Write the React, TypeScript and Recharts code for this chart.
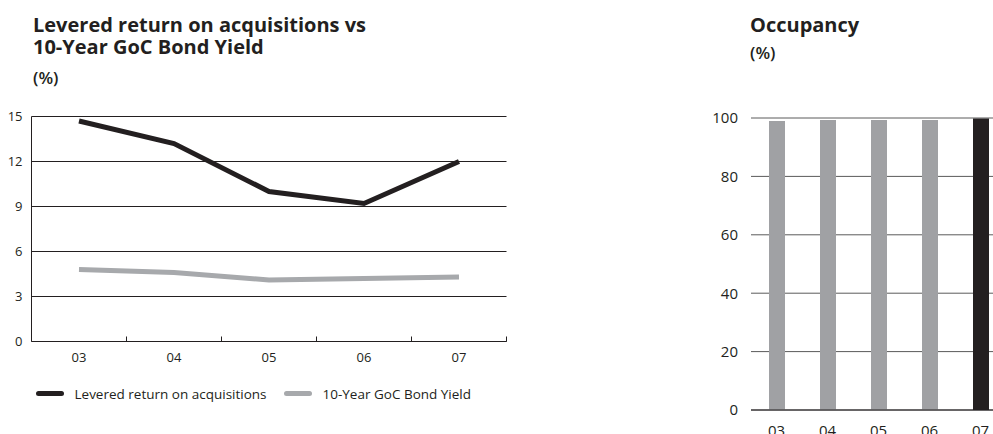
import { LineChart, Line, BarChart, Bar, XAxis, YAxis, CartesianGrid, Legend, Cell } from 'recharts';

const years = ['03', '04', '05', '06', '07'];
const leveredReturn = [14.7, 13.2, 10.0, 9.2, 12.0];
const bondYield = [4.8, 4.6, 4.1, 4.2, 4.3];
const occupancy = [99.0, 99.3, 99.3, 99.3, 99.8];
const returnTicks = [0, 3, 6, 9, 12, 15];
const occupancyTicks = [0, 20, 40, 60, 80, 100];
const seriesNames = ['Levered return on acquisitions', '10-Year GoC Bond Yield'];
const leftTitle = ['Levered return on acquisitions vs', '10-Year GoC Bond Yield'];

const INK = '#231f20';
const GREY = '#a7a9ac';
const BAR_GREY = '#a0a1a4';
const FONT = '"Open Sans", "Noto Sans", sans-serif';
const X_TICK_MARGIN = 11;

const returnData = years.map((year, i) => ({ year, levered: leveredReturn[i], bond: bondYield[i] }));
const occupancyData = years.map((year, i) => ({ year, occupancy: occupancy[i] }));

// year label under the band, plus a small upward mark at the band's right edge
function YearTick({ x, y, payload }: any) {
  const edge = x + (payload.offset || 0);
  const axisY = y - X_TICK_MARGIN;
  return (
    <g>
      <line x1={edge} x2={edge} y1={axisY} y2={axisY - 5} stroke={INK} />
      <text x={x} y={y} dy="0.71em" textAnchor="middle" fill={INK} fontSize={13} fontFamily={FONT}>
        {payload.value}
      </text>
    </g>
  );
}

function LineLegend({ payload }: any) {
  const items = [...(payload || [])].sort((a: any, b: any) => seriesNames.indexOf(a.value) - seriesNames.indexOf(b.value));
  return (
    <div style={{ display: 'flex', alignItems: 'center', height: 20, fontFamily: FONT, fontSize: 13.5, color: INK }}>
      {items.map((p: any, i: number) => (
        <div key={p.value} style={{ display: 'flex', alignItems: 'center', marginLeft: i === 0 ? 35 : 17 }}>
          <span style={{ display: 'inline-block', width: 28, height: 5, borderRadius: 3, background: p.color, marginRight: 11 }} />
          <span>{p.value}</span>
        </div>
      ))}
    </div>
  );
}

const titleStyle = { position: 'absolute' as const, fontFamily: FONT, fontWeight: 700, fontSize: 20, lineHeight: '22px', height: 22, color: INK, whiteSpace: 'nowrap' as const };
const unitStyle = { position: 'absolute' as const, fontFamily: FONT, fontWeight: 600, fontSize: 17, lineHeight: '20px', color: INK };

export default function App() {
  const tick = { fontSize: 13, fill: INK, fontFamily: FONT };
  return (
    <div style={{ position: 'fixed', left: 0, top: 0, width: 993, height: 434, overflow: 'hidden', background: '#fff' }}>
      {leftTitle.map((line, i) => (
        <div key={line} style={{ ...titleStyle, left: 33, top: 14 + i * 22 }}>{line}</div>
      ))}
      <div style={{ ...unitStyle, left: 33, top: 68 }}>(%)</div>

      <div style={{ position: 'absolute', left: 0, top: 100 }}>
        <LineChart width={520} height={310} data={returnData} margin={{ top: 16.5, right: 13.5, left: 0.5, bottom: 6.5 }}>
          <CartesianGrid vertical={false} stroke={INK} strokeOpacity={1} />
          <XAxis dataKey="year" scale="band" tickLine={false} axisLine={{ stroke: INK }} tick={<YearTick />} tickSize={0} tickMargin={X_TICK_MARGIN} height={42} interval={0} />
          <YAxis domain={[0, 15]} ticks={returnTicks} width={31} tickLine={false} tickSize={0} tickMargin={9} axisLine={{ stroke: INK }} tick={tick} />
          <Line dataKey="levered" name={seriesNames[0]} stroke={INK} strokeWidth={5} dot={false} isAnimationActive={false} />
          <Line dataKey="bond" name={seriesNames[1]} stroke={GREY} strokeWidth={5} dot={false} isAnimationActive={false} />
          <Legend verticalAlign="bottom" align="left" content={<LineLegend />} />
        </LineChart>
      </div>

      <div style={{ ...titleStyle, left: 750, top: 14 }}>Occupancy</div>
      <div style={{ ...unitStyle, left: 750, top: 43 }}>(%)</div>

      <div style={{ position: 'absolute', left: 700, top: 100 }}>
        <BarChart width={306} height={340} data={occupancyData} margin={{ top: 18, right: 0, left: 0, bottom: 0 }}>
          <CartesianGrid vertical={false} stroke="#5a5a5a" strokeOpacity={1} />
          <XAxis dataKey="year" tickLine={false} axisLine={{ stroke: INK }} tick={{ ...tick, fontSize: 15 }} tickSize={0} tickMargin={15} height={30} />
          <YAxis domain={[0, 100]} ticks={occupancyTicks} width={51} tickLine={false} axisLine={false} tickSize={0} tickMargin={13} tick={{ ...tick, fontSize: 15 }} />
          <Bar dataKey="occupancy" barSize={16} isAnimationActive={false}>
            {occupancyData.map((d, i) => (
              <Cell key={d.year} fill={i === occupancyData.length - 1 ? INK : BAR_GREY} />
            ))}
          </Bar>
        </BarChart>
      </div>
    </div>
  );
}
